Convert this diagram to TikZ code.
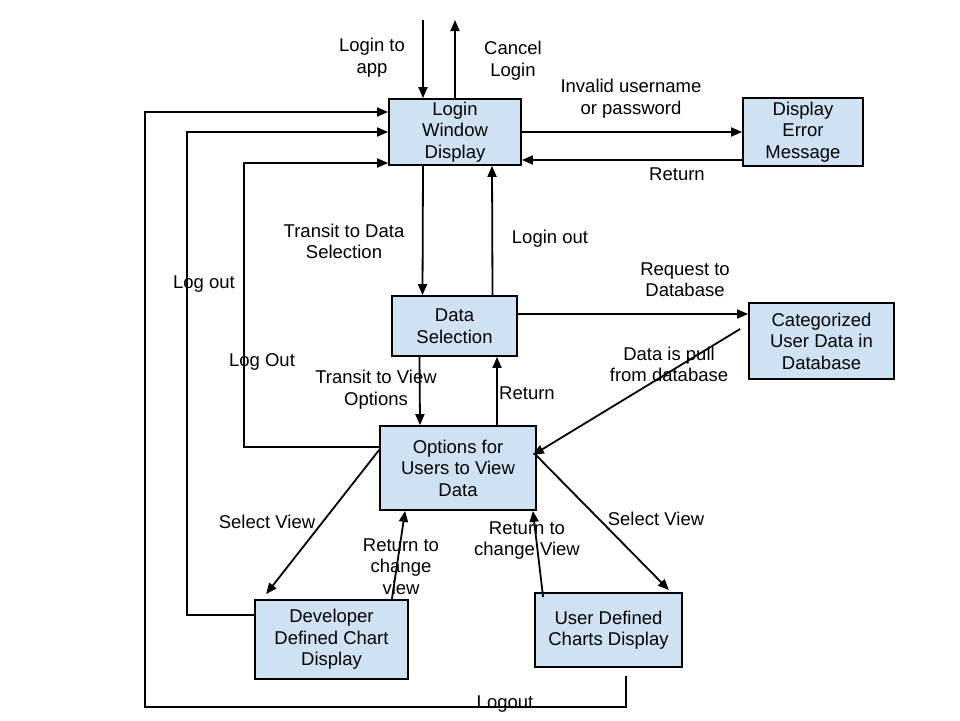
\documentclass[tikz,border=0pt]{standalone}
\usepackage{fontspec}
\setmainfont{Liberation Sans}
\usepackage{tikz}
\usetikzlibrary{positioning,arrows.meta}
\definecolor{boxblue}{HTML}{CFE2F3}

\begin{document}
\begin{tikzpicture}[x=1pt,y=-1pt,>={Triangle[length=11pt,width=9pt]},line width=1.8pt,
	every node/.style={font=\fontsize{18.5}{21.5}\selectfont,align=center,inner sep=0pt},
	box/.style={draw=black,fill=boxblue,rectangle},
	lbl/.style={yshift=-1.5pt}]

		\useasboundingbox (0,0) rectangle (960,720);

		%boxes
		\node[box,minimum width=132pt,minimum height=66pt] (login) at (455,132) {Login\\Window\\Display};
		\node[box,minimum width=120pt,minimum height=68pt] (error) at (803,132) {Display\\Error\\Message};
		\node[box,minimum width=125pt,minimum height=60pt] (data) at (454.5,326) {Data\\Selection};
		\node[box,minimum width=145pt,minimum height=76pt] (categ) at (821.5,341) {Categorized\\User Data in\\Database};
		\node[box,minimum width=156pt,minimum height=84pt] (options) at (458,468) {Options for\\Users to View\\Data};
		\node[box,minimum width=153pt,minimum height=79pt] (dev) at (331.5,639.5) {Developer\\Defined Chart\\Display};
		\node[box,minimum width=147pt,minimum height=74pt] (user) at (608.5,630) {User Defined\\Charts Display};

		%free ends and corners
		\coordinate (appIn) at (423,20);
		\coordinate (appOut) at (455,20);
		\coordinate (lo1) at (145,707);
		\coordinate (lo2) at (187,132);
		\coordinate (lo3) at (244,163);

		%edges
		\draw[->] (appIn) -- (appIn |- login.north);
		\draw[->] (login.north) -- (appOut);
		\draw[->] (login.east) -- (error.west);
		\draw[->] ([yshift=-28pt]error.west) -- ([yshift=-28pt]login.east);
		\draw[->] ([xshift=-32pt]login.south) -- ([xshift=-32pt]data.north);
		\draw[->] ([xshift=38pt]data.north) -- ([xshift=37pt]login.south);
		\draw[->] ([yshift=12pt]data.east) -- ([yshift=27pt]categ.west);
		\draw[->] ([xshift=-8pt,yshift=12pt]categ.west) -- ([xshift=-4pt,yshift=13pt]options.east);
		\draw[->] ([xshift=-35pt]data.south) -- ([xshift=-38pt]options.north);
		\draw[->] ([xshift=39pt]options.north) -- ([xshift=42.5pt]data.south);
		\draw[->] ([yshift=18pt]options.west) -- ([xshift=12pt,yshift=5pt]dev.north west);
		\draw[->] ([xshift=-17pt]dev.north east) -- ([xshift=26pt]options.south west);
		\draw[->] ([xshift=9pt,yshift=-5pt]user.north west) -- ([xshift=-4pt]options.south east);
		\draw[->] ([xshift=-3pt,yshift=15pt]options.east) -- ([xshift=-14pt,yshift=2pt]user.north east);
		\draw[->] ([yshift=21pt]options.west) -| (lo3) -- ([yshift=-31pt]login.west);
		\draw[->] ([yshift=24.5pt]dev.west) -| (lo2) -- (login.west);
		\draw[->] ([xshift=17.5pt,yshift=-8pt]user.south) |- (lo1) |- ([yshift=20pt]login.west);

		%labels
		\node[lbl] (lblApp) at (372,56) {Login to\\app};
		\node[lbl] (lblCancel) at (513,59) {Cancel\\Login};
		\node[lbl] (lblInvalid) at (631,97) {Invalid username\\or password};
		\node[lbl] (lblRetErr) at (677,173) {Return};
		\node[lbl] (lblTransData) at (344,240) {Transit to Data\\Selection};
		\node[lbl] (lblLoginOut) at (550,237) {Login out};
		\node[lbl] (lblRequest) at (685,278) {Request to\\Database};
		\node[lbl] (lblPull) at (669,363) {Data is pull\\from database};
		\node[lbl] (lblLogout2) at (204,283) {Log out};
		\node[lbl] (lblLogout3) at (262,360) {Log Out};
		\node[lbl] (lblTransView) at (376,388) {Transit to View\\Options};
		\node[lbl] (lblRetData) at (527,392) {Return};
		\node[lbl] (lblSelL) at (267,520) {Select View};
		\node[lbl] (lblRetL) at (401,565) {Return to\\change\\view};
		\node[lbl] (lblRetR) at (527,539) {Return to\\change View};
		\node[lbl] (lblSelR) at (656,517) {Select View};
		\node[lbl] (lblLogout1) at (505,703) {Logout};

		\end{tikzpicture}
\end{document}
